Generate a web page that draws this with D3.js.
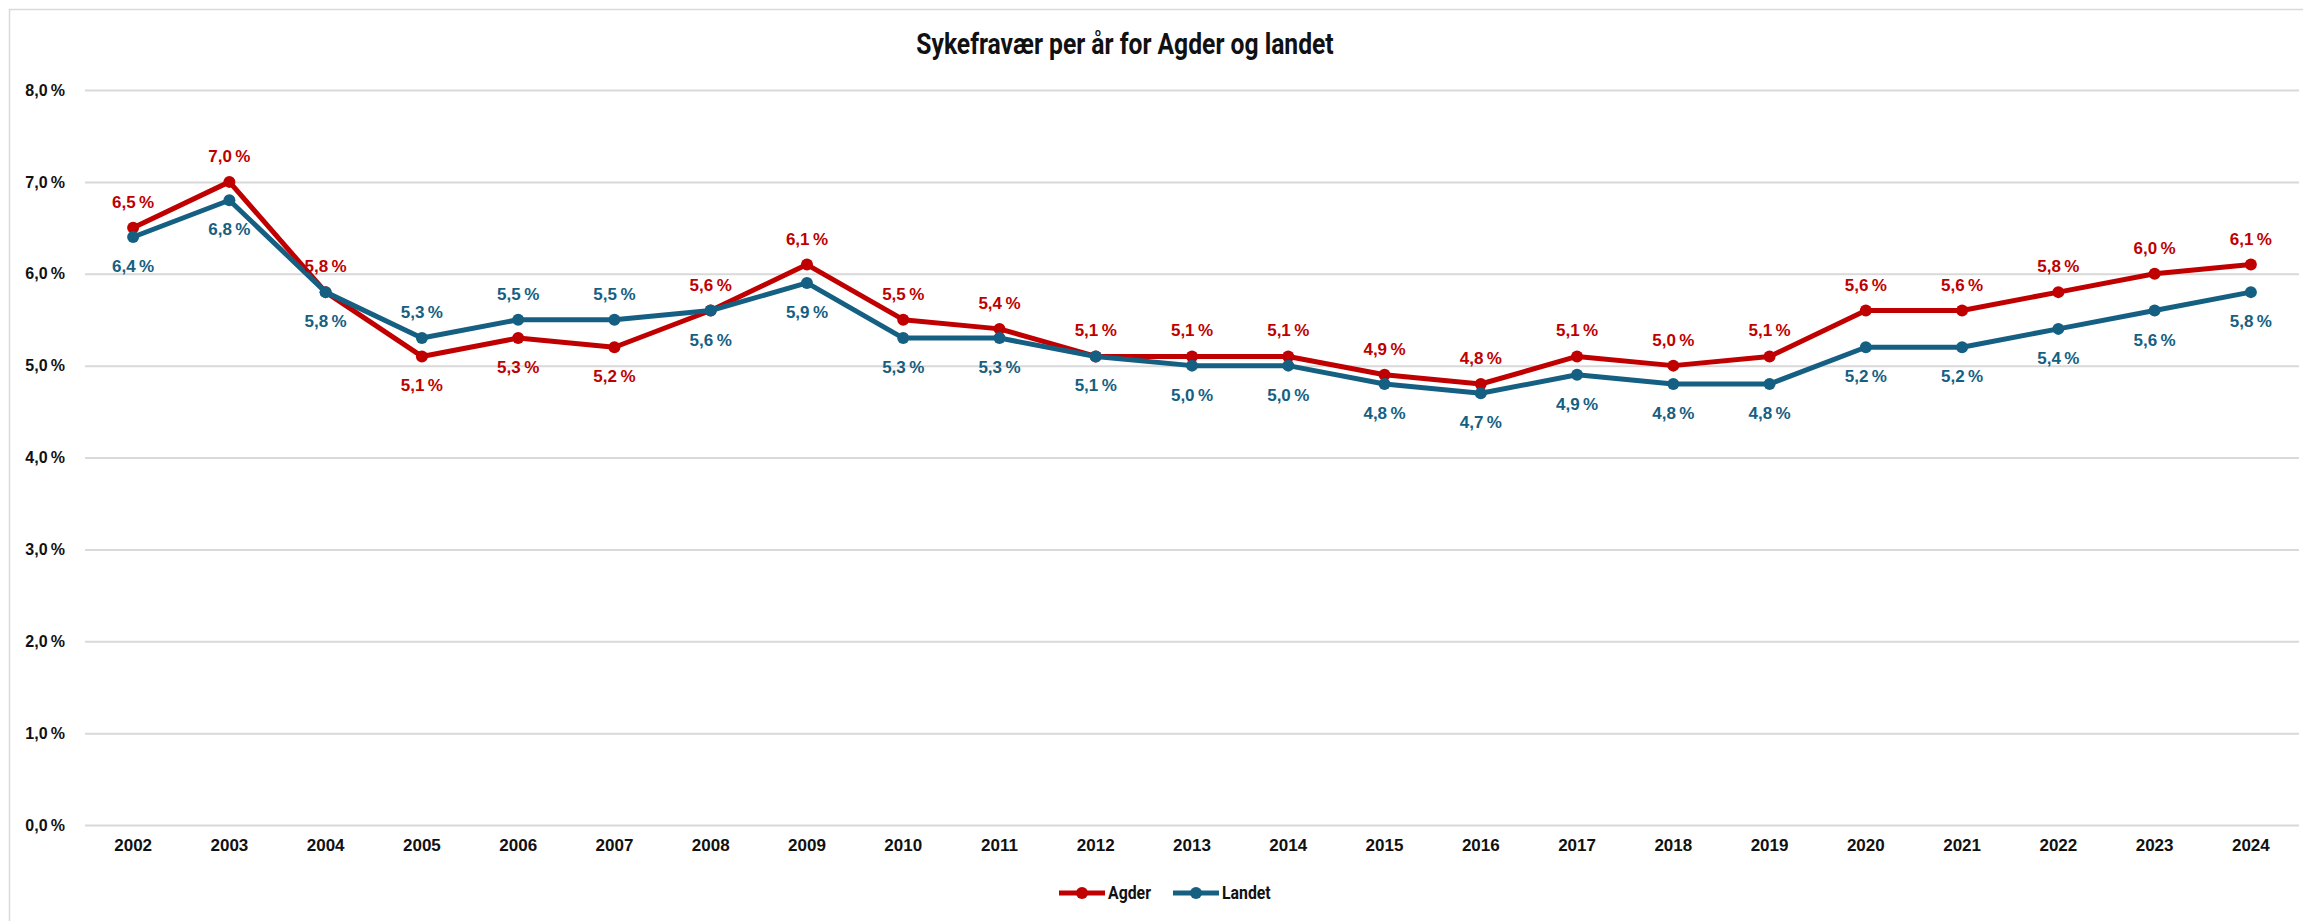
<!DOCTYPE html>
<html>
<head>
<meta charset="utf-8">
<script src="https://cdn.jsdelivr.net/npm/d3@7"></script>
<style>
  body { margin: 0; background: #fff; }
  svg { display: block; }
</style>
</head>
<body>
<script>
// chart data
var years = ["2002","2003","2004","2005","2006","2007","2008","2009","2010","2011","2012",
             "2013","2014","2015","2016","2017","2018","2019","2020","2021","2022","2023","2024"];
var agder  = [6.5,7.0,5.8,5.1,5.3,5.2,5.6,6.1,5.5,5.4,5.1,5.1,5.1,4.9,4.8,5.1,5.0,5.1,5.6,5.6,5.8,6.0,6.1];
var landet = [6.4,6.8,5.8,5.3,5.5,5.5,5.6,5.9,5.3,5.3,5.1,5.0,5.0,4.8,4.7,4.9,4.8,4.8,5.2,5.2,5.4,5.6,5.8];
var yTicks = [0,1,2,3,4,5,6,7,8];
var seriesNames = ["Agder", "Landet"];
var colors = ["#C00000", "#156082"];

var W = 2303, H = 921;
var margin = {top: 90, right: 4, bottom: 96, left: 85},
    width = W - margin.left - margin.right,
    height = H - margin.top - margin.bottom;

var nb = d3.formatLocale({decimal: ",", thousands: "\u00a0", grouping: [3], currency: ["", " kr"]});
var fmt = function(v) { return nb.format(".1f")(v) + "\u2009%"; };

var svg = d3.select("body").append("svg")
    .attr("width", W).attr("height", H);

// outer chart border
svg.append("rect")
    .attr("x", 9.5).attr("y", 9.5)
    .attr("width", W + 20).attr("height", H + 20)
    .attr("fill", "#fff").attr("stroke", "#d9d9d9").attr("stroke-width", 1.5);

// title, squeezed horizontally to mimic a narrow font
svg.append("text")
    .attr("transform", "translate(1125,54) scale(0.85,1)")
    .attr("text-anchor", "middle")
    .style("font-family", "'Roboto', sans-serif")
    .style("font-weight", "bold").style("font-size", "29px")
    .attr("fill", "#111")
    .text("Sykefravær per år for Agder og landet");

var g = svg.append("g")
    .attr("transform", "translate(" + margin.left + "," + margin.top + ")");

var x = d3.scaleBand().domain(years).range([0, width]);
var y = d3.scaleLinear().domain([0, 8]).range([height, 0]);
var cx = function(d, i) { return x(years[i]) + x.bandwidth() / 2; };

// gridlines + y axis labels
var yAxis = g.append("g")
    .call(d3.axisLeft(y).tickValues(yTicks).tickSize(-width).tickFormat(fmt).tickPadding(20));
yAxis.select(".domain").remove();
yAxis.selectAll(".tick line").attr("stroke", "#d9d9d9").attr("stroke-width", 2);
yAxis.selectAll(".tick text")
    .style("font-family", "'Liberation Sans', Arial, sans-serif")
    .style("font-weight", "bold").style("font-size", "16px").attr("fill", "#111");

var xAxis = g.append("g")
    .attr("transform", "translate(0," + height + ")")
    .call(d3.axisBottom(x).tickSize(0).tickPadding(14));
xAxis.select(".domain").remove();
xAxis.selectAll(".tick text")
    .style("font-family", "'Liberation Sans', Arial, sans-serif")
    .style("font-weight", "bold").style("font-size", "17px").attr("fill", "#111");

var series = [agder, landet];
var line = d3.line().x(cx).y(function(d) { return y(d); });

series.forEach(function(vals, s) {
    g.append("path")
        .datum(vals)
        .attr("d", line)
        .attr("fill", "none")
        .attr("stroke", colors[s])
        .attr("stroke-width", 5)
        .attr("stroke-linejoin", "round");
    g.selectAll(".m" + s)
        .data(vals).enter().append("circle")
        .attr("class", "m" + s)
        .attr("cx", cx).attr("cy", function(d) { return y(d); })
        .attr("r", 6).attr("fill", colors[s]);
});

// data labels: the higher series gets its label above, the other below
series.forEach(function(vals, s) {
    g.selectAll(".l" + s)
        .data(vals).enter().append("text")
        .attr("class", "l" + s)
        .attr("x", cx)
        .attr("y", function(d, i) {
            var above = s === 0 ? agder[i] >= landet[i] : landet[i] > agder[i];
            return y(d) + (above ? -20 : 35);
        })
        .attr("text-anchor", "middle")
        .style("font-family", "'Liberation Sans', Arial, sans-serif")
        .style("font-weight", "bold").style("font-size", "17px")
        .attr("fill", colors[s])
        .text(fmt);
});

// legend
var legend = svg.append("g").attr("transform", "translate(1059,893)");
var lx = [0, 114];
seriesNames.forEach(function(name, s) {
    var lg = legend.append("g").attr("transform", "translate(" + lx[s] + ",0)");
    lg.append("line").attr("x1", 0).attr("x2", 46).attr("y1", 0).attr("y2", 0)
        .attr("stroke", colors[s]).attr("stroke-width", 5);
    lg.append("circle").attr("cx", 23).attr("cy", 0).attr("r", 6).attr("fill", colors[s]);
    lg.append("text").attr("transform", "translate(49,6) scale(0.88,1)")
        .style("font-family", "'Roboto', sans-serif")
        .style("font-weight", "bold").style("font-size", "18px").attr("fill", "#111")
        .text(name);
});
</script>
</body>
</html>
